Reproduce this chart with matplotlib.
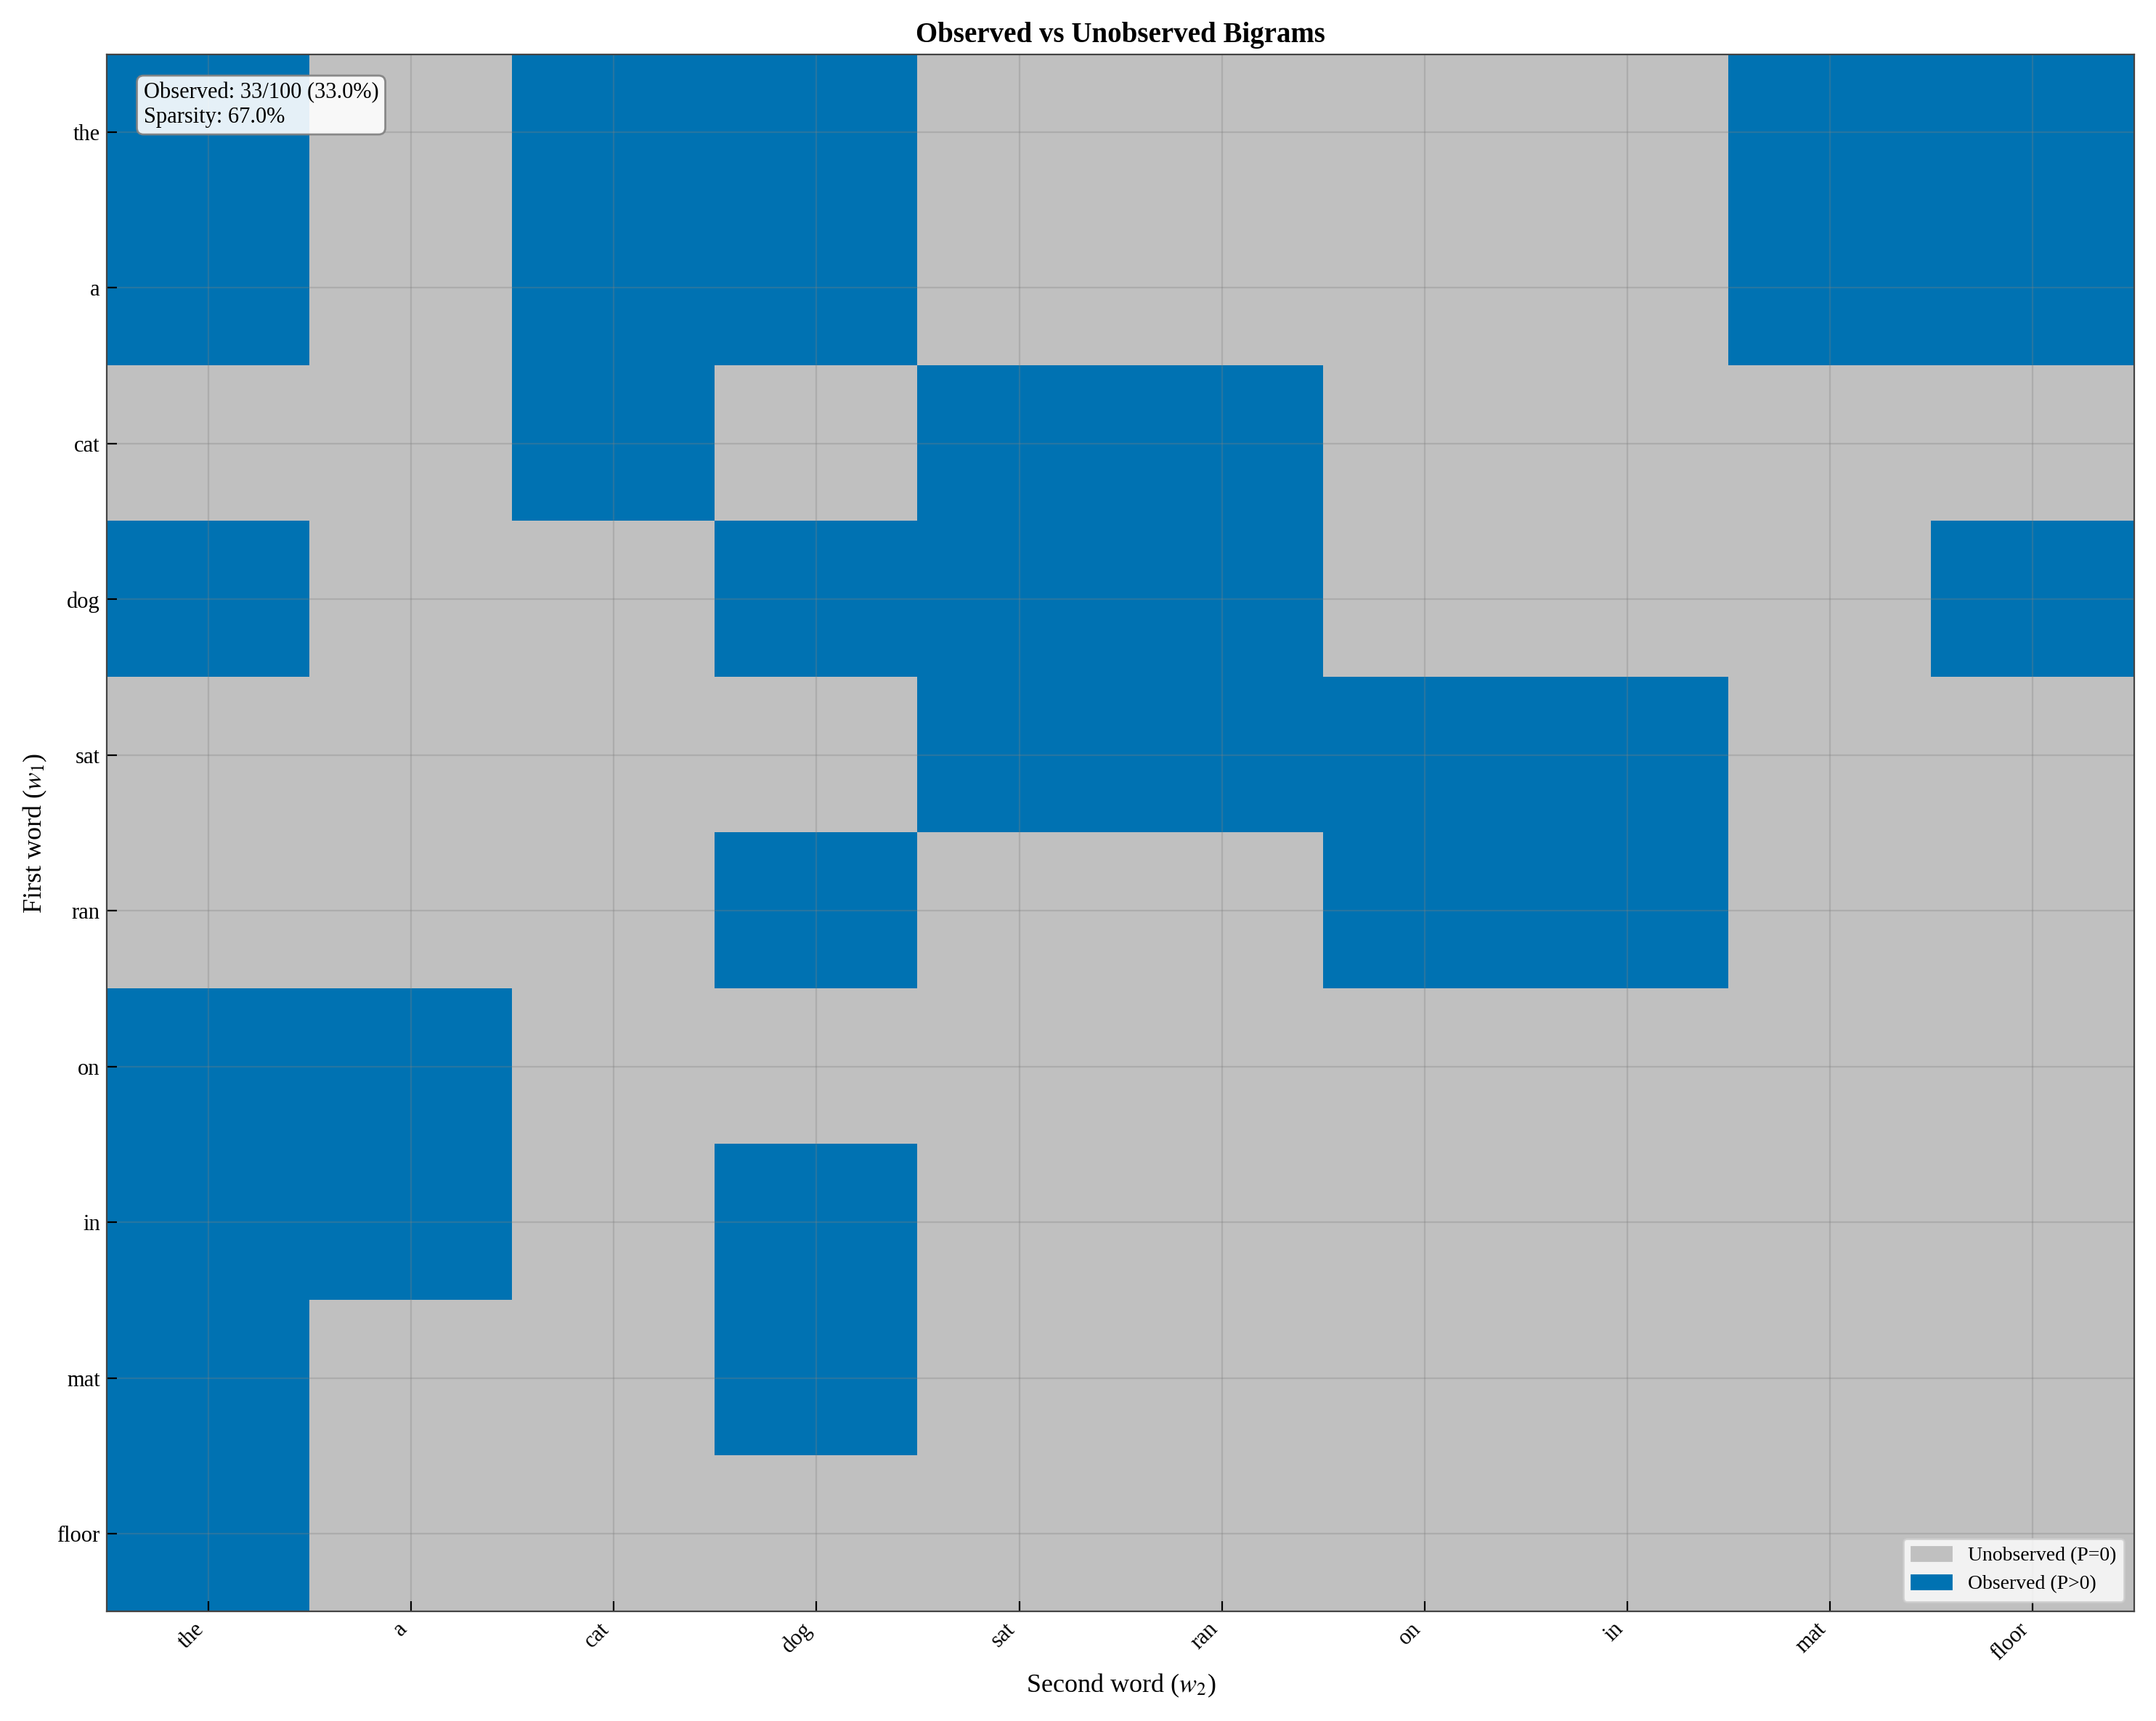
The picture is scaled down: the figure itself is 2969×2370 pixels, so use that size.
import numpy as np
import matplotlib.pyplot as plt
from matplotlib.colors import ListedColormap
from matplotlib.patches import Patch

words = ["the", "a", "cat", "dog", "sat", "ran", "on", "in", "mat", "floor"]

observed = np.array([
    [1, 0, 1, 1, 0, 0, 0, 0, 1, 1],
    [1, 0, 1, 1, 0, 0, 0, 0, 1, 1],
    [0, 0, 1, 0, 1, 1, 0, 0, 0, 0],
    [1, 0, 0, 1, 1, 1, 0, 0, 0, 1],
    [0, 0, 0, 0, 1, 1, 1, 1, 0, 0],
    [0, 0, 0, 1, 0, 0, 1, 1, 0, 0],
    [1, 1, 0, 0, 0, 0, 0, 0, 0, 0],
    [1, 1, 0, 1, 0, 0, 0, 0, 0, 0],
    [1, 0, 0, 1, 0, 0, 0, 0, 0, 0],
    [1, 0, 0, 0, 0, 0, 0, 0, 0, 0],
])

plt.rcParams["font.family"] = ["Liberation Serif", "DejaVu Serif"]
plt.rcParams["mathtext.fontset"] = "stix"

gray = "#c0c0c0"
blue = "#0072b2"

fig, ax = plt.subplots(figsize=(14.845, 11.85), dpi=200)
ax.imshow(observed, cmap=ListedColormap([gray, blue]), aspect="auto",
          interpolation="nearest", vmin=0, vmax=1)

ax.set_xticks(range(len(words)))
ax.set_xticklabels(words, rotation=45, ha="right", fontsize=11)
ax.set_yticks(range(len(words)))
ax.set_yticklabels(words, fontsize=11)
ax.tick_params(direction="in", length=5)
ax.grid(True, color="gray", alpha=0.3, linewidth=0.8)
for s in ax.spines.values():
    s.set_color("#444444")

ax.set_xlabel("Second word ($w_2$)", fontsize=13)
ax.set_ylabel("First word ($w_1$)", fontsize=13)
ax.set_title("Observed vs Unobserved Bigrams", fontsize=14, fontweight="bold")

n_obs = int(observed.sum())
total = observed.size
ax.text(0.018, 0.982,
        f"Observed: {n_obs}/{total} ({100 * n_obs / total:.1f}%)\n"
        f"Sparsity: {100 * (1 - n_obs / total):.1f}%",
        transform=ax.transAxes, va="top", ha="left", fontsize=11,
        bbox=dict(boxstyle="round,pad=0.3", facecolor="white", alpha=0.9,
                  edgecolor="gray"))

handles = [Patch(color=gray, label="Unobserved (P=0)"),
           Patch(color=blue, label="Observed (P>0)")]
ax.legend(handles=handles, loc="lower right", fontsize=10)

fig.tight_layout()
fig.savefig("out.png", dpi=200)
